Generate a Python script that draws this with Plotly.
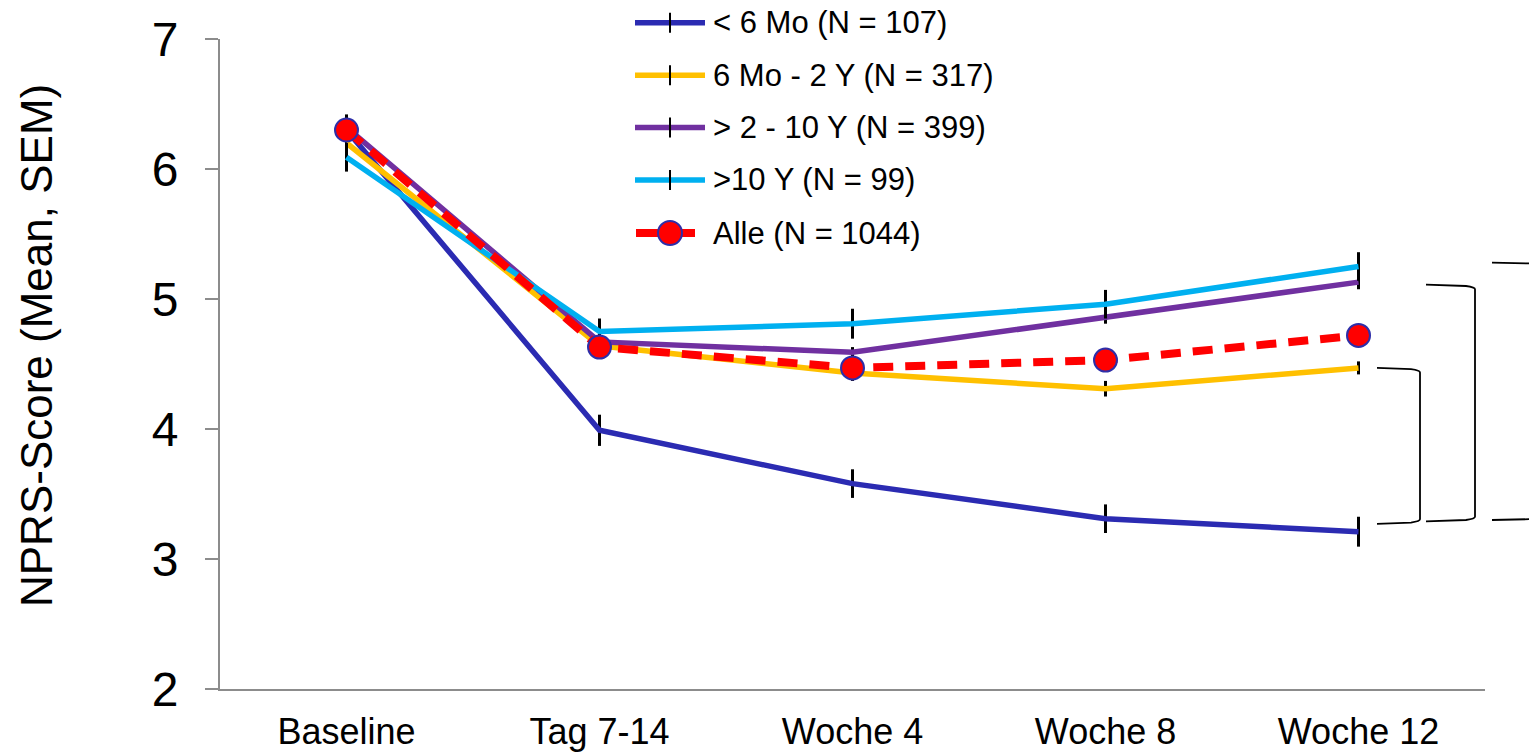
import plotly.graph_objects as go

# ---------------- data ----------------
categories = ["Baseline", "Tag 7-14", "Woche 4", "Woche 8", "Woche 12"]

lt6mo = [6.30, 3.99, 3.58, 3.31, 3.21]
lt6mo_sem = [0.12, 0.12, 0.11, 0.11, 0.115]

mo6_2y = [6.20, 4.64, 4.43, 4.31, 4.47]
mo6_2y_sem = [0.07, 0.06, 0.06, 0.06, 0.05]

y2_10 = [6.32, 4.67, 4.59, 4.86, 5.13]
y2_10_sem = [0.06, 0.06, 0.04, 0.05, 0.055]

gt10y = [6.09, 4.75, 4.81, 4.96, 5.25]
gt10y_sem = [0.11, 0.10, 0.115, 0.11, 0.11]

alle = [6.30, 4.63, 4.47, 4.53, 4.72]

series_names = ["< 6 Mo (N = 107)", "6 Mo - 2 Y (N = 317)", "> 2 - 10 Y (N = 399)",
                ">10 Y (N = 99)", "Alle (N = 1044)"]
y_title = "NPRS-Score (Mean, SEM)"

# ---------------- style ----------------
FONT = "Liberation Sans, Arial, sans-serif"
C_BLUE = "#2B2BB2"
C_YEL = "#FFC000"
C_PUR = "#7030A0"
C_CYAN = "#00B0F0"
C_RED = "#FF0000"
AX = "#8c8c8c"

W, H = 1529, 754
L, R, T, B = 220, 1485, 39, 689
PW, PH = R - L, B - T


def px(xp):
    return (xp - L) / PW


def py(yp):
    return (B - yp) / PH


fig = go.Figure()

groups = [
    (lt6mo, lt6mo_sem, C_BLUE),
    (mo6_2y, mo6_2y_sem, C_YEL),
    (y2_10, y2_10_sem, C_PUR),
    (gt10y, gt10y_sem, C_CYAN),
]
for (vals, sem, col), name in zip(groups, series_names[:4]):
    fig.add_trace(go.Scatter(
        x=categories, y=vals, name=name, mode="lines",
        line=dict(color=col, width=5.5),
        error_y=dict(type="data", array=sem, visible=True, color="black",
                     thickness=3, width=0),
        cliponaxis=False,
    ))

fig.add_trace(go.Scatter(
    x=categories, y=alle, name=series_names[4], mode="lines+markers",
    line=dict(color=C_RED, width=8, dash="20px,12px"),
    marker=dict(symbol="circle", size=23, color=C_RED,
                line=dict(color="#2E2EA8", width=2)),
    cliponaxis=False,
))

shapes = []
annotations = []

# ---------------- manual legend ----------------
leg_rows = [22.7, 75.2, 127.6, 180.0, 233.0]
leg_cols = [C_BLUE, C_YEL, C_PUR, C_CYAN, C_RED]
for i, (ry, col, name) in enumerate(zip(leg_rows, leg_cols, series_names)):
    if i < 4:
        shapes.append(dict(type="line", xref="paper", yref="paper",
                           x0=px(635), x1=px(705), y0=py(ry), y1=py(ry),
                           line=dict(color=col, width=5.5)))
        shapes.append(dict(type="line", xref="paper", yref="paper",
                           x0=px(670), x1=px(670), y0=py(ry - 10), y1=py(ry + 10),
                           line=dict(color="black", width=2)))
    else:
        shapes.append(dict(type="line", xref="paper", yref="paper",
                           x0=px(636), x1=px(695), y0=py(ry), y1=py(ry),
                           line=dict(color=col, width=8)))
        shapes.append(dict(type="circle", xref="paper", yref="paper",
                           xsizemode="pixel", ysizemode="pixel",
                           xanchor=px(670), yanchor=py(ry),
                           x0=-12, x1=12, y0=-12, y1=12,
                           fillcolor=C_RED, line=dict(color="#2E2EA8", width=2)))
    annotations.append(dict(xref="paper", yref="paper", x=px(711), y=py(ry),
                            xanchor="left", yanchor="middle", showarrow=False,
                            text=name, font=dict(family=FONT, size=31, color="black")))

# ---------------- significance brackets ----------------
def bracket(x0p, x1p, ytop, ybot):
    d = 0.035
    xa, xb = px(x0p), px(x1p)
    xm = px(x1p - 9)
    path = (f"M {xa},{ytop} L {xm},{ytop - 0.01} Q {xb},{ytop - 0.02} {xb},{ytop - d} "
            f"L {xb},{ybot + d} Q {xb},{ybot + 0.02} {xm},{ybot + 0.01} L {xa},{ybot}")
    return dict(type="path", xref="paper", yref="y", path=path,
                line=dict(color="black", width=1.8))

blue_end = lt6mo[-1]
shapes.append(bracket(1377, 1420, mo6_2y[-1], blue_end + 0.06))
shapes.append(bracket(1426, 1475, y2_10[-1] - 0.02, blue_end + 0.08))
shapes.append(bracket(1492, 1560, gt10y[-1] + 0.03, blue_end + 0.09))

# ---------------- y-axis title ----------------
annotations.append(dict(xref="paper", yref="paper", x=px(36), y=py(346),
                        xanchor="center", yanchor="middle", showarrow=False,
                        textangle=-90, text=y_title,
                        font=dict(family=FONT, size=44, color="black")))

fig.update_layout(
    width=W, height=H,
    margin=dict(l=L, r=W - R, t=T, b=H - B, autoexpand=False),
    paper_bgcolor="white", plot_bgcolor="white",
    showlegend=False,
    font=dict(family=FONT, color="black"),
    shapes=shapes, annotations=annotations,
    xaxis=dict(type="category", categoryorder="array", categoryarray=categories,
               range=[-0.5, 4.5], showline=True, linecolor=AX, linewidth=2,
               ticks="", showgrid=False, zeroline=False, automargin=False,
               tickfont=dict(family=FONT, size=36, color="black"),
               ticklabelstandoff=10),
    yaxis=dict(range=[2, 7], dtick=1, tick0=2, showline=True, linecolor=AX,
               linewidth=2, ticks="outside", ticklen=13, tickwidth=2,
               tickcolor=AX, showgrid=False, zeroline=False, automargin=False,
               tickfont=dict(family=FONT, size=48, color="black"),
               ticklabelstandoff=17),
)

fig.write_html("out.html")
